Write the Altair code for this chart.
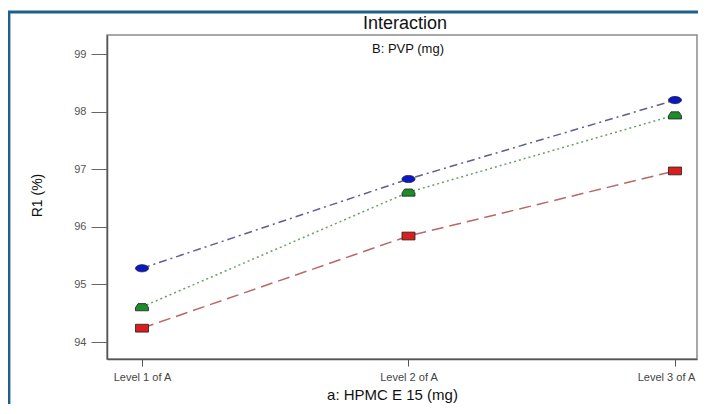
import json
import altair as alt
import pandas as pd

# ---- data ----
levels = [1, 2, 3]
level_labels = ["Level 1 of A", "Level 2 of A", "Level 3 of A"]
series = ["B1", "B2", "B3"]
blue_vals = [95.28, 96.83, 98.20]
green_vals = [94.61, 96.60, 97.94]
red_vals = [94.24, 95.84, 96.97]
y_ticks = [94, 95, 96, 97, 98, 99]

rows = []
for name, vals in zip(series, [blue_vals, green_vals, red_vals]):
    for lv, v in zip(levels, vals):
        rows.append({"series": name, "level": lv, "r1": v})
df = pd.DataFrame(rows)

FONT = "Liberation Sans"
line_colors = ["#5e5e90", "#6aa06a", "#b86868"]
fill_colors = ["#0a18c8", "#1e8c2a", "#d81e1e"]
dashes = [[8, 4, 2, 4], [2, 3], [12, 6]]
shapes = [
    "M-1,0A1,0.55,0,1,1,1,0A1,0.55,0,1,1,-1,0Z",
    "M-1,0.6L-1,0.1L-0.6,-0.5L0.6,-0.5L1,0.1L1,0.6Z",
    "M-1,-0.6L1,-0.6L1,0.6L-1,0.6Z",
]

label_expr = json.dumps(level_labels) + "[datum.value - 1]"

x_enc = alt.X(
    "level:Q",
    scale=alt.Scale(domain=[0.8687, 3.0826], nice=False, zero=False),
    axis=alt.Axis(
        values=levels, labelExpr=label_expr, title="a: HPMC E 15 (mg)",
        grid=False, tickSize=7, labelPadding=5, labelFontSize=11,
        labelColor="#444", titleFontSize=15, titleFontWeight="normal",
        titleColor="#111", titleX=285, titleY=40, titleAlign="center",
        titleBaseline="alphabetic", labelFont=FONT, titleFont=FONT,
        domainColor="#555", domainWidth=1.5, tickColor="#555",
        labelOffset={"expr": "datum.value == 3 ? -9 : 0"},
    ),
)
y_enc = alt.Y(
    "r1:Q",
    scale=alt.Scale(domain=[93.705, 99.33], nice=False, zero=False),
    axis=alt.Axis(
        values=y_ticks, format="d", title="R1 (%)", grid=False, tickSize=16,
        labelPadding=5, labelFontSize=11, labelColor="#555",
        titleFontSize=14, titleFontWeight="normal", titleColor="#111",
        titleX=-70, titleY=160, titleAlign="center", titleBaseline="middle",
        labelFont=FONT, titleFont=FONT, domainColor="#555",
        domainWidth=1.5, tickColor="#666",
    ),
)

base = alt.Chart(df)

lines = base.mark_line(strokeWidth=1.5).encode(
    x=x_enc,
    y=y_enc,
    color=alt.Color("series:N", scale=alt.Scale(domain=series, range=line_colors), legend=None),
    strokeDash=alt.StrokeDash("series:N", scale=alt.Scale(domain=series, range=dashes), legend=None),
)

points = base.mark_point(filled=True, size=169, stroke="#202020", strokeWidth=0.8, opacity=1).encode(
    x="level:Q",
    y="r1:Q",
    fill=alt.Fill("series:N", scale=alt.Scale(domain=series, range=fill_colors), legend=None),
    shape=alt.Shape("series:N", scale=alt.Scale(domain=series, range=shapes), legend=None),
)

title_txt = alt.Chart(pd.DataFrame({"t": ["Interaction"]})).mark_text(
    font=FONT, fontSize=18, color="#111", align="center", baseline="alphabetic"
).encode(text="t:N", x=alt.value(298), y=alt.value(-6))

subtitle = alt.Chart(pd.DataFrame({"t": ["B: PVP (mg)"]})).mark_text(
    font=FONT, fontSize=13, color="#111", align="center", baseline="alphabetic"
).encode(text="t:N", x=alt.value(301), y=alt.value(18))

frame = alt.Chart(pd.DataFrame({"k": [0]})).mark_rect(
    fill="transparent", stroke="#1f5f8a", strokeWidth=2.8
).encode(x=alt.value(-98), x2=alt.value(640), y=alt.value(-23), y2=alt.value(420))

chart = alt.layer(frame, lines, points, title_txt, subtitle).properties(
    width=590,
    height=324,
    autosize="none",
    padding={"left": 99, "top": 27, "right": 1, "bottom": 45},
    background="white",
).configure_view(stroke="#8a8a8a", strokeWidth=1.5)

chart.save("out.html", embed_options={"renderer": "svg", "actions": False})
